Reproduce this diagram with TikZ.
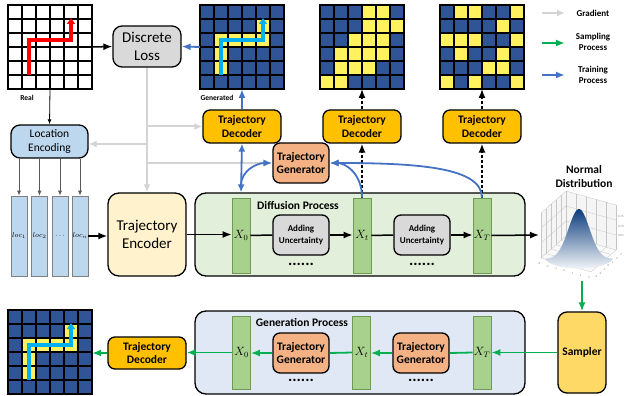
\documentclass[tikz,border=0pt]{standalone}
\usepackage{fontspec}
\setmainfont{Carlito}
\usetikzlibrary{arrows.meta,calc}

\definecolor{cdec}{HTML}{FFC000}
\definecolor{cgen}{HTML}{F4B183}
\definecolor{cgray}{HTML}{D9D9D9}
\definecolor{cloc}{HTML}{BDD7EE}
\definecolor{cenc}{HTML}{FFF2CC}
\definecolor{cdiff}{HTML}{E2EFDA}
\definecolor{cgenp}{HTML}{E1E8F5}
\definecolor{cbar}{HTML}{A9D18E}
\definecolor{cbarline}{HTML}{6F9A55}
\definecolor{csamp}{HTML}{FFD966}
\definecolor{cgrid}{HTML}{2F5597}
\definecolor{cyel}{HTML}{FFF25E}
\definecolor{ccyan}{HTML}{00B0F0}
\definecolor{ctrain}{HTML}{4472C4}
\definecolor{cgreen}{HTML}{00B050}
\definecolor{cgrad}{HTML}{D4D4D4}
\definecolor{cdark}{HTML}{595959}
\definecolor{cnd}{HTML}{0B3D7E}
\definecolor{cndmid}{HTML}{7DB3DC}
\definecolor{cwall}{HTML}{F5F5F5}

\tikzset{
    box/.style={draw, line width=1.3pt, rounded corners=7pt, align=center, inner sep=1pt},
    decoder/.style={box, fill=cdec, minimum width=78pt, minimum height=33pt, font=\bfseries\fontsize{11.5}{13.5}\selectfont},
    generator/.style={box, fill=cgen, minimum width=56pt, minimum height=40pt, font=\bfseries\fontsize{11.5}{13.5}\selectfont},
    adding/.style={box, fill=cgray, minimum width=56pt, minimum height=40pt, font=\bfseries\fontsize{9}{11.5}\selectfont},
    xbar/.style={draw=cbarline, line width=0.7pt, fill=cbar, minimum width=18pt, minimum height=75pt, inner sep=0pt, font=\fontsize{12}{12}\selectfont},
    locbar/.style={draw=gray, line width=0.6pt, fill=cloc, minimum width=16pt, minimum height=80pt, inner sep=0pt, font=\fontsize{7.5}{8}\selectfont},
    stage/.style={draw, line width=1.3pt, rounded corners=11pt, minimum width=330pt, minimum height=83pt},
    title/.style={font=\bfseries\fontsize{11.5}{14}\selectfont, align=center},
    gridnode/.style={minimum size=84pt, inner sep=0pt, outer sep=0pt},
    gline/.style={line width=1.3pt, line cap=rect},
    smalllbl/.style={font=\bfseries\fontsize{7.5}{8}\selectfont},
    legendlbl/.style={font=\bfseries\fontsize{9}{11}\selectfont, align=center},
    ticklbl/.style={font=\fontsize{3}{3}\selectfont, inner sep=0pt, gray},
    dotrow/.style={font=\bfseries\fontsize{16}{16}\selectfont, inner sep=0pt},
    link/.style={line width=1.5pt},
    flow/.style={link, -{Latex[length=9pt,width=7pt]}},
    dflow/.style={flow, dash pattern=on 3pt off 2pt},
    thinarrow/.style={line width=0.8pt, -{Latex[length=5pt,width=4pt]}},
    train/.style={flow, ctrain, line width=1.8pt},
    sample/.style={flow, cgreen, line width=1.8pt},
    slink/.style={link, cgreen, line width=1.8pt},
    grad/.style={line width=2pt, cgrad, -{Latex[length=8pt,width=7pt]}},
    pgrid/.style={line width=0.3pt, gray!45},
    trail/.style={line width=3.2pt, -{Triangle[length=6pt,width=8pt]}},
}

\begin{document}
\begin{tikzpicture}[x=1pt, y=-1pt, font=\fontsize{11.5}{13.5}\selectfont]
    \useasboundingbox (0,0) rectangle (625,396);
    \def\yelA{1/4,2/1,2/2,2/3,2/4,3/1,4/1}
    \def\yelB{0/3,0/4,1/3,1/4,1/5,2/2,2/3,2/4,3/1,3/2,3/3,3/4,4/1,4/2,4/3,5/0,5/1}
    \def\yelC{0/1,0/2,0/5,1/4,2/0,2/1,2/2,2/5,3/1,3/4,4/3,4/4,5/0,5/2,5/5}
    \def\cells#1#2{\begin{scope}[shift={(#1.north west)}]
        \fill[cgrid] (0,0) rectangle (84,84);
        \foreach \r/\c in #2 \fill[cyel] (\c*14,\r*14) rectangle ++(14,14);
        \foreach \i in {0,...,6} \draw[gline] (\i*14,0) -- (\i*14,84) (0,\i*14) -- (84,\i*14);
    \end{scope}}
    \def\trailpath#1#2{\draw[trail, #2, shift={(#1.north west)}] (21,70) -- (21,35) -- (63,35) -- (63,13);}

    % grids
    \node[gridnode] (real) at (50,47) {};
    \node[gridnode] (gen1) at (242,47) {};
    \node[gridnode] (gen2) at (362,47) {};
    \node[gridnode] (gen3) at (482,47) {};
    \node[gridnode] (gridb) at (50,352) {};
    \begin{scope}[shift={(real.north west)}]
        \fill[white] (0,0) rectangle (84,84);
        \foreach \i in {0,...,6} \draw[gline] (\i*14,0) -- (\i*14,84) (0,\i*14) -- (84,\i*14);
    \end{scope}
    \cells{gen1}{\yelA}
    \cells{gen2}{\yelB}
    \cells{gen3}{\yelC}
    \cells{gridb}{\yelA}
    \trailpath{real}{red}
    \trailpath{gen1}{ccyan}
    \trailpath{gridb}{ccyan}
    \node[smalllbl] (reallbl) at (27,98) {Real};
    \node[smalllbl] (genlbl) at (217,98) {Generated};

    % boxes
    \node[box, fill=cgray, rounded corners=9pt, minimum width=68pt, minimum height=41pt, font=\fontsize{15}{18}\selectfont] (loss) at (147,46.5) {Discrete\\Loss};
    \node[decoder] (dec1) at (242,126.5) {Trajectory\\Decoder};
    \node[decoder] (dec2) at (362,126.5) {Trajectory\\Decoder};
    \node[decoder] (dec3) at (482,126.5) {Trajectory\\Decoder};
    \node[generator] (tgen) at (301,163) {Trajectory\\Generator};
    \node[box, fill=cloc, rounded corners=9pt, minimum width=77pt, minimum height=33pt] (locenc) at (49.5,141.5) {Location\\Encoding};
    \foreach \n/\x/\t in {1/19/loc_1, 2/39.5/loc_2, 3/60/\cdots, 4/80/loc_n}
        \node[locbar] (loc\n) at (\x,236) {$\t$};
    \node[box, fill=cenc, rounded corners=11pt, minimum width=78pt, minimum height=83pt, font=\fontsize{15}{18}\selectfont] (enc) at (147,234.5) {Trajectory\\Encoder};

    % diffusion
    \node[stage, fill=cdiff] (diff) at (360,234.5) {};
    \node[title] (difflbl) at (298,206) {Diffusion Process};
    \node[xbar] (x0) at (241,235.5) {$X_0$};
    \node[xbar] (xt) at (362,235.5) {$X_t$};
    \node[xbar] (xT) at (482,235.5) {$X_T$};
    \node[adding] (add1) at (301,235) {Adding\\Uncertainty};
    \node[adding] (add2) at (422,235) {Adding\\Uncertainty};
    \node[dotrow] (dots1) at (301,264) {......};
    \node[dotrow] (dots2) at (422,264) {......};
    \coordinate (x0top) at (x0 |- diff.north);

    % normal distribution
    \node[title] (ndlbl) at (584,177) {Normal\\Distribution};
    \coordinate (fl) at (541,258);
    \coordinate (ff) at (591,272);
    \coordinate (fr) at (616,250);
    \coordinate (fb) at (566,236);
    \fill[cwall] (fl) -- (fb) -- (fr) -- ++(0,-45) -- ($(fb)+(0,-45)$) -- ($(fl)+(0,-45)$) -- cycle;
    \fill[cwall!60] (fl) -- (ff) -- (fr) -- (fb) -- cycle;
    \foreach \t in {0,0.2,0.4,0.6,0.8,1} {
        \draw[pgrid] ($(fl)!\t!(fb)$) -- ++(0,-45);
        \draw[pgrid] ($(fb)!\t!(fr)$) -- ++(0,-45);
        \draw[pgrid] ($(fl)!\t!(ff)$) -- ($(fb)!\t!(fr)$);
        \draw[pgrid] ($(fl)!\t!(fb)$) -- ($(ff)!\t!(fr)$);
    }
    \foreach \h in {15,30,45}
        \draw[pgrid] ($(fl)+(0,-\h)$) -- ($(fb)+(0,-\h)$) -- ($(fr)+(0,-\h)$);
    \shade[top color=cnd, middle color=cndmid, bottom color=white]
        plot[domain=-34:34, samples=50] ({579+\x}, {259-50*exp(-((\x)*(\x))/220)})
        .. controls (604,272) and (554,272) .. (545,259) -- cycle;
    \foreach \v [count=\k from 0] in {-3,-2,-1,0,1,2,3} {
        \node[ticklbl] (ax\k) at ($(fl)!\k/6!(ff)+(-2,6)$) {\v};
        \node[ticklbl] (ay\k) at ($(ff)!\k/6!(fr)+(5,5)$) {\v};
    }
    \foreach \v/\y in {0.15/217, 0.10/227, 0.05/236}
        \node[ticklbl, anchor=west] (az\y) at (618,\y) {\v};
    \coordinate (ndist) at (539,235);
    \coordinate (ndbot) at (582,281);

    % generation
    \node[box, fill=csamp, rounded corners=9pt, minimum width=48pt, minimum height=81pt, font=\bfseries\fontsize{11.5}{13.5}\selectfont] (sampler) at (582,352.5) {Sampler};
    \node[stage, fill=cgenp] (genp) at (360,352.5) {};
    \node[title] (genlbl2) at (302,322) {Generation Process};
    \node[xbar, minimum height=73pt] (x0b) at (241.5,352.5) {$X_0$};
    \node[xbar, minimum height=73pt] (xtb) at (361.5,352.5) {$X_t$};
    \node[xbar, minimum height=73pt] (xTb) at (482,352.5) {$X_T$};
    \node[generator] (g1) at (301,353) {Trajectory\\Generator};
    \node[generator] (g2) at (421,353) {Trajectory\\Generator};
    \node[dotrow] (dots3) at (301,380) {......};
    \node[dotrow] (dots4) at (421,380) {......};
    \node[decoder, minimum height=32pt] (dec4) at (147,353) {Trajectory\\Decoder};

    % legend
    \node[legendlbl] (lgrad) at (593,13) {Gradient};
    \node[legendlbl] (lsamp) at (593,41.5) {Sampling\\Process};
    \node[legendlbl] (ltrain) at (593,75) {Training\\Process};
    \coordinate (la1) at (542,13);   \coordinate (lb1) at (565,13);
    \coordinate (la2) at (542,43);   \coordinate (lb2) at (565,43);
    \coordinate (la3) at (542,75);   \coordinate (lb3) at (565,75);
    \draw[grad, line width=1.6pt] (la1) -- (lb1);
    \draw[sample] (la2) -- (lb2);
    \draw[train] (la3) -- (lb3);

    % connectors
    \draw[flow] (real.east) -- (loss.west);
    \draw[train] (gen1.west) -- (loss.east);
    \draw[thinarrow] (real.south) -- (locenc.north);
    \draw[grad] (loss.south) -- (enc.north);
    \draw[grad] (loss.south |- dec1.west) -- (dec1.west);
    \draw[grad] (loss.south |- 0,144) -- (locenc.east |- 0,144);
    \draw[grad] (loss.south |- tgen.west) -- (tgen.west);
    \foreach \n in {1,...,4}
        \draw[thinarrow, cdark] (locenc.south -| loc\n.north) -- (loc\n.north);
    \draw[flow] (loc4.east) -- (loc4.east -| enc.west);
    \draw[flow] (enc.east) -- (enc.east -| x0.west);
    \draw[link] (x0.east) -- (add1.west);
    \draw[flow] (add1.east) -- (add1.east -| xt.west);
    \draw[link] (xt.east) -- (add2.west);
    \draw[flow] (add2.east) -- (add2.east -| xT.west);
    \draw[flow] (xT.east) -- (ndist);
    \draw[dflow] (xt.north) -- (dec2.south);
    \draw[dflow] (xT.north) -- (dec3.south);
    \draw[dflow] (dec2.north) -- (gen2.south);
    \draw[dflow] (dec3.north) -- (gen3.south);
    \draw[train, {Latex[length=8pt,width=7pt]}-{Latex[length=8pt,width=7pt]}] (dec1.south) -- (x0top);
    \draw[train] ([yshift=7pt]x0top) to[out=90, in=180] (tgen.west);
    \draw[train] (xt.north) .. controls +(0,-25) and +(15,0) .. (tgen.east);
    \draw[train] (xT.north) .. controls +(0,-30) and +(90,0) .. (tgen.east);
    \draw[train] (dec1.north) -- (gen1.south);
    \draw[sample] (ndbot) -- (sampler.north);
    \draw[sample] (sampler.west) -- (sampler.west -| xTb.east);
    \draw[slink] (xTb.west) -- (g2.east);
    \draw[sample] (g2.west) -- (g2.west -| xtb.east);
    \draw[slink] (xtb.west) -- (g1.east);
    \draw[sample] (g1.west) -- (g1.west -| x0b.east);
    \draw[sample] (x0b.west) -- (x0b.west -| dec4.east);
    \draw[sample] (dec4.west) -- (dec4.west -| gridb.east);
\end{tikzpicture}
\end{document}
